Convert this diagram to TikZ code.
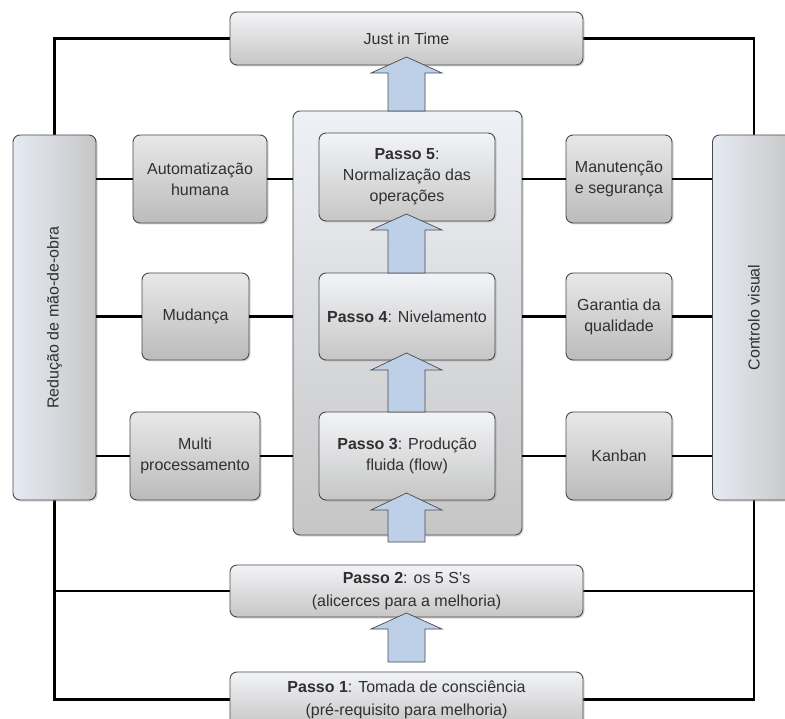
\documentclass[tikz,border=0pt]{standalone}
\usepackage{fontspec}
\setmainfont{Liberation Sans}
\usetikzlibrary{shadows}
\definecolor{ink}{HTML}{303030}
\definecolor{edge}{HTML}{4a4a4a}
\definecolor{arrowfill}{HTML}{BED0E8}
\definecolor{pale}{HTML}{F3F4F7}
\definecolor{bluepale}{HTML}{E6EAF3}
\definecolor{midgray}{HTML}{C6C6C6}
\definecolor{tilegray}{HTML}{BBBBBB}
\definecolor{tiletop}{HTML}{E8E8E8}

% block arrow: centre x, tip y, head base y, tail y
\newcommand\bigarrow[4]{%
  \draw[blockarrow] (#1-18.5,#4) -- (#1-18.5,#3) -- (#1-35.5,#3) -- (#1,#2)
    -- (#1+35.5,#3) -- (#1+18.5,#3) -- (#1+18.5,#4) -- cycle;}

\begin{document}
\begin{tikzpicture}[x=1pt,y=-1pt,
  box/.style={draw=edge, line width=0.9pt, rounded corners=7pt, inner sep=0pt,
    align=center, text=ink, font=\fontsize{16}{21}\selectfont,
    drop shadow={shadow xshift=1.5pt, shadow yshift=-1.5pt, opacity=0.3}},
  tile/.style={box, top color=tiletop, bottom color=tilegray},
  stepbox/.style={box, top color=pale, bottom color=midgray, minimum width=176pt},
  pillar/.style={box, left color=bluepale, right color=midgray,
    minimum width=83pt, minimum height=365pt},
  hubbox/.style={box, top color=bluepale!70!white, bottom color=midgray},
  bar/.style={box, top color=pale, bottom color=midgray, minimum width=353pt,
    font=\fontsize{16}{23}\selectfont},
  wire/.style={line width=2.4pt, black},
  blockarrow/.style={draw=edge, line width=0.7pt, fill=arrowfill}]

\clip (0,0) rectangle (785,719);
\fill[white] (0,0) rectangle (785,719);

% outer frame lines
\draw[wire] (54.5,135) |- (406.5,38.5);
\draw[wire] (754,135) |- (406.5,38.5);
\draw[wire] (54.5,500) |- (406.5,591);
\draw[wire] (54.5,500) |- (406.5,699.5);
\draw[wire] (754,500) |- (406.5,591);
\draw[wire] (754,500) |- (406.5,699.5);

% top and bottom bars
\node[bar, minimum height=53pt] (jit) at (406.5,38.5) {Just in Time};
\node[bar, minimum height=52pt] (p2) at (406.5,591)
  {\textbf{Passo 2}: os 5 S's\\(alicerces para a melhoria)};
\node[bar, minimum height=55pt] (p1) at (406.5,699.5)
  {\textbf{Passo 1}: Tomada de consciência\\(pré-requisito para melhoria)};

% side pillars
\node[pillar] (red) at (54.5,317.5) {};
\node[rotate=90, text=ink, font=\fontsize{16}{21}\selectfont] at (red.center) {Redução de mão-de-obra};
\node[pillar] (ctl) at (754,317.5) {};
\node[rotate=90, text=ink, font=\fontsize{16}{21}\selectfont] at (ctl.center) {Controlo visual};

% central column
\node[hubbox, minimum width=229pt, minimum height=424pt] (hub) at (407.5,323) {};
\node[stepbox, minimum height=88pt] (p5) at (407,177)
  {\textbf{Passo 5}:\\Normalização das\\operações};
\node[stepbox, minimum height=87pt] (p4) at (407,316.5)
  {\textbf{Passo 4}: Nivelamento};
\node[stepbox, minimum height=88pt] (p3) at (407,456)
  {\textbf{Passo 3}: Produção\\fluida (flow)};

% left tiles
\node[tile, minimum width=134pt, minimum height=88pt] (aut) at (200,179)
  {Automatização\\humana};
\node[tile, minimum width=107pt, minimum height=87pt] (mud) at (195.5,316.5)
  {Mudança};
\node[tile, minimum width=130pt, minimum height=88pt] (mul) at (195,456)
  {Multi\\processamento};

% right tiles
\node[tile, minimum width=106pt, minimum height=88pt] (man) at (619,179)
  {Manutenção\\e segurança};
\node[tile, minimum width=106pt, minimum height=87pt] (gar) at (619,316.5)
  {Garantia da\\qualidade};
\node[tile, minimum width=106pt, minimum height=88pt] (kan) at (619,456)
  {Kanban};

% horizontal links
\foreach \l/\r in {aut/man, mud/gar, mul/kan}{
  \draw[wire] (red.east |- \l.west) -- (\l.west);
  \draw[wire] (\l.east) -- (hub.west |- \l.east);
  \draw[wire] (hub.east |- \r.west) -- (\r.west);
  \draw[wire] (\r.east) -- (ctl.west |- \r.east);
}

% upward block arrows
\bigarrow{406.5}{57}{73}{111}
\bigarrow{406.5}{214}{230}{273}
\bigarrow{406.5}{353}{370}{412}
\bigarrow{406.5}{493}{510}{542}
\bigarrow{406.5}{613}{629}{662}
\end{tikzpicture}
\end{document}
